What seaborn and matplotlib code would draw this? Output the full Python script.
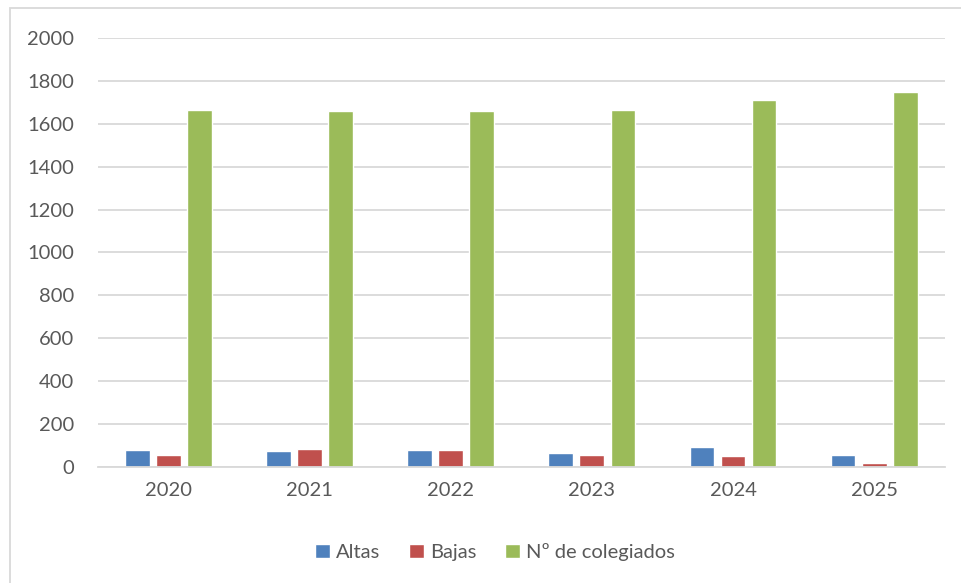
import pandas as pd
import matplotlib.pyplot as plt
import seaborn as sns
from matplotlib.patches import Rectangle

years = ["2020", "2021", "2022", "2023", "2024", "2025"]
altas = [79, 76, 79, 63, 93, 55]
bajas = [58, 84, 79, 55, 49, 17]
colegiados = [1664, 1659, 1659, 1664, 1710, 1747]
series = ["Altas", "Bajas", "Nº de colegiados"]
colores = ["#4F81BD", "#C0504D", "#9BBB59"]

df = pd.DataFrame({"Año": years * 3,
                   "Serie": [series[0]] * 6 + [series[1]] * 6 + [series[2]] * 6,
                   "Valor": altas + bajas + colegiados})

sns.set_style("white")
plt.rcParams["font.family"] = ["Lato", "DejaVu Sans"]
texto = "#595959"
gris = "#D9D9D9"

fig = plt.figure(figsize=(9.61, 5.83), dpi=100)
ax = fig.add_axes([0.102, 0.199, 0.881, 0.736])
sns.barplot(data=df, x="Año", y="Valor", hue="Serie", palette=colores,
            width=0.66, gap=0.2, saturation=1, ax=ax, legend=True)

ax.set_ylim(0, 2000)
ax.set_yticks(range(0, 2001, 200))
ax.yaxis.grid(True, color=gris, linewidth=1.3)
ax.set_axisbelow(True)
for s in ["top", "right", "left"]:
    ax.spines[s].set_visible(False)
ax.spines["bottom"].set_color(gris)
ax.spines["bottom"].set_linewidth(1.3)
ax.tick_params(axis="both", length=0, labelsize=14.5, colors=texto)
ax.tick_params(axis="x", pad=11)
ax.tick_params(axis="y", pad=17)
ax.set_xlabel("")
ax.set_ylabel("")

handles, labels = ax.get_legend_handles_labels()
ax.get_legend().remove()
fig.legend(handles, labels, loc="center", bbox_to_anchor=(0.515, 0.053),
           ncol=3, frameon=False, fontsize=14.5, labelcolor=texto,
           handlelength=0.75, handleheight=0.75, handletextpad=0.3, columnspacing=1.4)

fig.patches.append(Rectangle((10 / 961, -0.1), 1.2, 1 - 8 / 583 + 0.1,
                             transform=fig.transFigure, fill=False,
                             edgecolor=gris, linewidth=1.3))

fig.savefig("out.png", dpi=100)
